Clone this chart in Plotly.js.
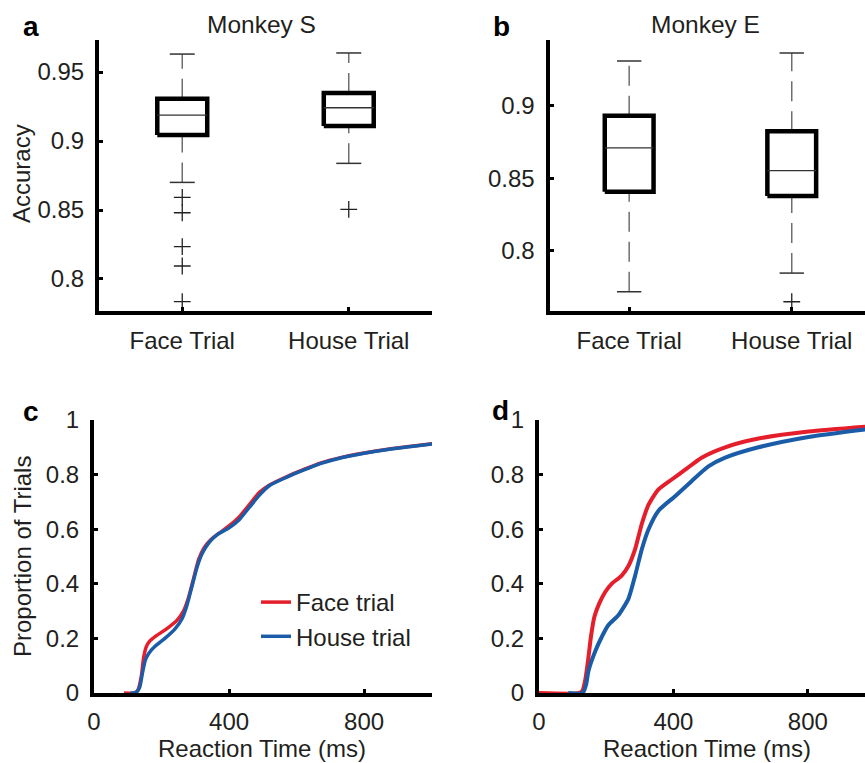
<!DOCTYPE html>
<html>
<head>
<meta charset="utf-8">
<script src="https://cdn.plot.ly/plotly-3.0.1.min.js"></script>
<style>
  html, body { margin: 0; padding: 0; background: #fff; }
  #chart { width: 865px; height: 763px; }
</style>
</head>
<body>
<div id="chart"></div>
<script>
// ---------------- DATA ----------------
const categories = ["Face Trial", "House Trial"];

// Panel a: Monkey S accuracy box summaries (Face, House)
const sQ1 = [0.9043, 0.9109];
const sMedian = [0.9188, 0.9241];
const sQ3 = [0.9307, 0.9348];
const sLowerWhisker = [0.8700, 0.8838];
const sUpperWhisker = [0.9630, 0.9638];
const sOutliersFace = [0.8592, 0.8480, 0.8234, 0.8094, 0.7836];
const sOutliersHouse = [0.8505];

// Panel b: Monkey E accuracy box summaries (Face, House)
const eQ1 = [0.8407, 0.8378];
const eMedian = [0.8710, 0.8553];
const eQ3 = [0.8933, 0.8825];
const eLowerWhisker = [0.7716, 0.7845];
const eUpperWhisker = [0.9311, 0.9367];
const eOutliersFace = [];
const eOutliersHouse = [0.7647];

// Panel c: cumulative RT distributions, Monkey S
const cFaceRT = [89, 120, 130, 140, 147, 155, 165, 185, 215, 245, 265, 280, 295, 310, 325, 345, 370, 400, 430, 460, 490, 520, 570, 620, 670, 730, 800, 870, 940, 1007];
const cFaceP  = [0, 0.0, 0.01, 0.06, 0.13, 0.17, 0.19, 0.21, 0.235, 0.265, 0.30, 0.35, 0.42, 0.49, 0.53, 0.56, 0.585, 0.612, 0.645, 0.69, 0.735, 0.762, 0.792, 0.818, 0.842, 0.862, 0.879, 0.893, 0.904, 0.914];
const cHouseRT = [108, 125, 135, 143, 152, 162, 180, 210, 240, 260, 275, 290, 305, 320, 340, 365, 400, 430, 460, 490, 520, 570, 620, 670, 730, 800, 870, 940, 1007];
const cHouseP  = [0, 0.003, 0.02, 0.07, 0.12, 0.145, 0.17, 0.2, 0.235, 0.27, 0.32, 0.39, 0.46, 0.51, 0.55, 0.58, 0.605, 0.635, 0.68, 0.725, 0.76, 0.79, 0.816, 0.84, 0.861, 0.878, 0.892, 0.903, 0.913];

// Panel d: cumulative RT distributions, Monkey E
const dFaceRT = [0, 120, 130, 138, 146, 155, 165, 180, 197, 216, 246, 266, 286, 306, 326, 355, 395, 435, 484, 554, 653, 802, 975];
const dFaceP  = [0, 0, 0.01, 0.05, 0.12, 0.21, 0.28, 0.33, 0.37, 0.40, 0.43, 0.465, 0.527, 0.62, 0.69, 0.745, 0.782, 0.818, 0.862, 0.90, 0.932, 0.958, 0.976];
const dHouseRT = [87, 130, 140, 147, 167, 187, 206, 236, 266, 286, 306, 326, 355, 405, 454, 504, 554, 653, 802, 975];
const dHouseP  = [0, 0, 0.03, 0.08, 0.152, 0.206, 0.248, 0.285, 0.345, 0.43, 0.527, 0.60, 0.667, 0.721, 0.776, 0.83, 0.862, 0.90, 0.938, 0.966];

const seriesNames = ["Face trial", "House trial"];

const accTickVals = [0.8, 0.85, 0.9, 0.95];
const accTickText = ["0.8", "0.85", "0.9", "0.95"];
const propTickVals = [0, 0.2, 0.4, 0.6, 0.8, 1];
const propTickText = ["0", "0.2", "0.4", "0.6", "0.8", "1"];
const rtTickVals = [0, 400, 800];
const rtTickText = ["0", "400", "800"];

// ---------------- STYLE ----------------
const W = 865, H = 763;
const FONT = "Liberation Sans, Arial, Helvetica, sans-serif";
const TXT = "#231f20";
const RED = "#e41e2b";
const BLUE = "#1b5ca8";
const FS = 24;
const px2x = p => p / W;
const px2y = p => 1 - p / H;
const xdom = (l, r) => [px2x(l), px2x(r)];
const ydom = (t, b) => [px2y(b), px2y(t)];

const BOX_HALF = 0.15, CAP_HALF = 0.075;

function boxTraces(xa, ya, q1, med, q3, lw, uw, outliers) {
  const tr = [];
  for (let i = 0; i < q1.length; i++) {
    const common = {xaxis: xa, yaxis: ya, showlegend: false, hoverinfo: "skip", type: "scatter", mode: "lines"};
    // lower whisker (drawn bottom -> top)
    tr.push(Object.assign({}, common, {x: [i, i], y: [lw[i], q1[i]], line: {color: "#6e6e6e", width: 1.5, dash: "20px,10px"}}));
    // upper whisker
    tr.push(Object.assign({}, common, {x: [i, i], y: [q3[i], uw[i]], line: {color: "#6e6e6e", width: 1.5, dash: "20px,10px"}}));
    // caps
    tr.push(Object.assign({}, common, {x: [i - CAP_HALF, i + CAP_HALF], y: [lw[i], lw[i]], line: {color: "#333", width: 1.5}}));
    tr.push(Object.assign({}, common, {x: [i - CAP_HALF, i + CAP_HALF], y: [uw[i], uw[i]], line: {color: "#333", width: 1.5}}));
    // box
    tr.push(Object.assign({}, common, {x: [i - BOX_HALF, i + BOX_HALF, i + BOX_HALF, i - BOX_HALF, i - BOX_HALF],
      y: [q1[i], q1[i], q3[i], q3[i], q1[i]], line: {color: "#000", width: 4.5}}));
    // median
    tr.push(Object.assign({}, common, {x: [i - BOX_HALF, i + BOX_HALF], y: [med[i], med[i]], line: {color: "#333", width: 1.3}}));
    // outliers
    const o = outliers[i];
    if (o.length) {
      tr.push({xaxis: xa, yaxis: ya, type: "scatter", mode: "markers", showlegend: false, hoverinfo: "skip",
        x: o.map(() => i), y: o,
        marker: {symbol: "cross-thin", size: 12, color: "#222", line: {color: "#222", width: 1.3}}});
    }
  }
  return tr;
}

const traces = []
  .concat(boxTraces("x", "y", sQ1, sMedian, sQ3, sLowerWhisker, sUpperWhisker, [sOutliersFace, sOutliersHouse]))
  .concat(boxTraces("x2", "y2", eQ1, eMedian, eQ3, eLowerWhisker, eUpperWhisker, [eOutliersFace, eOutliersHouse]));

traces.push({type: "scatter", mode: "lines", xaxis: "x3", yaxis: "y3", x: cFaceRT, y: cFaceP, name: seriesNames[0],
  line: {color: RED, width: 3.5, shape: "spline", smoothing: 0.6}, hoverinfo: "skip"});
traces.push({type: "scatter", mode: "lines", xaxis: "x3", yaxis: "y3", x: cHouseRT, y: cHouseP, name: seriesNames[1],
  line: {color: BLUE, width: 3.5, shape: "spline", smoothing: 0.6}, hoverinfo: "skip"});
traces.push({type: "scatter", mode: "lines", xaxis: "x4", yaxis: "y4", x: dFaceRT, y: dFaceP, name: seriesNames[0], showlegend: false,
  line: {color: RED, width: 4, shape: "spline", smoothing: 0.6}, hoverinfo: "skip"});
traces.push({type: "scatter", mode: "lines", xaxis: "x4", yaxis: "y4", x: dHouseRT, y: dHouseP, name: seriesNames[1], showlegend: false,
  line: {color: BLUE, width: 4, shape: "spline", smoothing: 0.6}, hoverinfo: "skip"});

const axBase = {
  showline: true, linecolor: "#000", linewidth: 4, mirror: false,
  showgrid: false, zeroline: false,
  ticks: "inside", ticklen: 4, tickwidth: 3, tickcolor: "#000",
  tickfont: {family: FONT, size: FS, color: TXT},
  fixedrange: true
};
const ax = o => Object.assign({}, axBase, o);

const layout = {
  width: W, height: H,
  margin: {l: 0, r: 0, t: 0, b: 0},
  paper_bgcolor: "#fff", plot_bgcolor: "rgba(0,0,0,0)",
  font: {family: FONT, color: TXT},
  showlegend: true,
  legend: {x: px2x(256), y: px2y(580), xanchor: "left", yanchor: "top",
    font: {family: FONT, size: FS, color: TXT}, bgcolor: "rgba(0,0,0,0)", tracegroupgap: 0},
  xaxis: ax({domain: xdom(99, 432), range: [-0.5, 1.5], anchor: "y", tickvals: [0, 1], ticktext: categories, ticklabelstandoff: 5}),
  yaxis: ax({domain: ydom(40, 311), range: [0.7768, 0.9732], anchor: "x", tickvals: accTickVals, ticktext: accTickText, ticklabelstandoff: 6}),
  xaxis2: ax({domain: xdom(549.5, 865), range: [-0.49, 1.4505], anchor: "y2", tickvals: [0, 1], ticktext: categories, ticklabelstandoff: 5}),
  yaxis2: ax({domain: ydom(40, 311), range: [0.7583, 0.9456], anchor: "x2", tickvals: accTickVals, ticktext: accTickText, ticklabelstandoff: 6}),
  xaxis3: ax({domain: xdom(94, 432), range: [0, 1001], anchor: "y3", tickvals: rtTickVals, ticktext: rtTickText, ticklabelstandoff: 4}),
  yaxis3: ax({domain: ydom(420, 693), range: [0, 1], anchor: "x3", tickvals: propTickVals, ticktext: propTickText, ticklabelstandoff: 6}),
  xaxis4: ax({domain: xdom(539, 865), range: [0, 970], anchor: "y4", tickvals: rtTickVals, ticktext: rtTickText, ticklabelstandoff: 4}),
  yaxis4: ax({domain: ydom(420, 693), range: [0, 1], anchor: "x4", tickvals: propTickVals, ticktext: propTickText, ticklabelstandoff: 6}),
  annotations: [
    {text: "<b>a</b>", x: px2x(31), y: px2y(27), font: {size: 28, color: "#000"}},
    {text: "<b>b</b>", x: px2x(501), y: px2y(27), font: {size: 28, color: "#000"}},
    {text: "<b>c</b>", x: px2x(31), y: px2y(411), font: {size: 28, color: "#000"}},
    {text: "<b>d</b>", x: px2x(500), y: px2y(410), font: {size: 28, color: "#000"}},
    {text: "Monkey S", x: px2x(261), y: px2y(24), font: {size: 24.5, color: TXT}},
    {text: "Monkey E", x: px2x(705), y: px2y(24), font: {size: 24.5, color: TXT}},
    {text: "Accuracy", x: px2x(22), y: px2y(174), textangle: -90, font: {size: FS, color: TXT}},
    {text: "Proportion of Trials", x: px2x(22), y: px2y(557), textangle: -90, font: {size: FS, color: TXT}},
    {text: "Reaction Time (ms)", x: px2x(262), y: px2y(748), font: {size: FS, color: TXT}},
    {text: "Reaction Time (ms)", x: px2x(707), y: px2y(748), font: {size: FS, color: TXT}}
  ].map(a => Object.assign({xref: "paper", yref: "paper", showarrow: false, xanchor: "center", yanchor: "middle"}, a,
    {font: Object.assign({family: FONT}, a.font)}))
};

Plotly.newPlot("chart", traces, layout, {staticPlot: true, displayModeBar: false});
</script>
</body>
</html>
